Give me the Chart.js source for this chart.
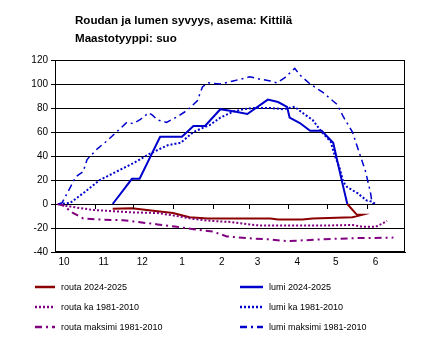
<!DOCTYPE html>
<html>
<head>
<meta charset="utf-8">
<script src="https://cdn.jsdelivr.net/npm/chart.js@4"></script>
<style>
  body { margin:0; background:#fff; font-family:"Liberation Sans", Arial, sans-serif; }
  #wrap { position:relative; width:430px; height:352px; }
  #title { position:absolute; left:75px; top:11px; font-weight:bold; font-size:11.6px; line-height:18px; color:#000; }
  .leg { position:absolute; font-size:9px; color:#000; display:flex; align-items:center; white-space:nowrap; }
  .leg svg { margin-right:6px; }
</style>
</head>
<body>
<div id="wrap">
  <canvas id="myChart" width="430" height="352"></canvas>
  <div id="title">Roudan ja lumen syvyys, asema: Kittilä<br>Maastotyyppi: suo</div>
  <div id="legend"></div>
</div>
<script>
// days counted from 1 Oct, depth in cm
var monthStarts = [0, 31, 61, 92, 123, 151, 182, 212, 243];
var monthLabels = ['10', '11', '12', '1', '2', '3', '4', '5', '6'];

var routaDays = [45, 60, 80, 92, 105, 119, 137, 168, 174, 193, 201, 232, 239.5, 235.5, 228];
var routaDepth = [-4, -3.5, -6, -7.5, -11, -12, -12, -12, -13, -13, -12, -11, -9, -9, 0];

var routaKaDays = [2, 6, 17, 30, 45, 61, 80, 95, 108, 121, 137, 144, 160, 181, 207, 232, 240, 250, 256, 259];
var routaKaDepth = [0, -1, -3, -5, -6, -7, -7.5, -10, -12.5, -14, -15, -16, -18, -18, -18, -17.5, -19, -19, -16, -14];

var routaMaxDays = [2, 6, 14, 22, 35, 53, 61, 80, 95, 108, 123, 134, 150, 168, 181, 207, 232, 264];
var routaMaxDepth = [0, -1, -7.5, -12, -13, -13.5, -14.5, -17, -19, -21, -23, -27, -28.5, -29.5, -31, -29.5, -28.5, -28];

var lumiDays = [45, 60, 66, 82, 90, 99, 108, 117, 129, 140, 150, 166, 174, 181, 183, 191, 199, 208, 217, 224, 228];
var lumiDepth = [0, 21, 21, 56, 56, 56, 65, 65, 79, 77, 75, 87, 85, 81, 72, 67.5, 61, 61, 51, 18, 0];

var lumiKaDays = [3, 12, 22, 35, 48, 61, 74, 88, 98, 108, 121, 129, 139, 147, 154, 168, 178, 187, 193, 201, 208, 215, 218, 222, 225, 228, 236, 243, 247, 250];
var lumiKaDepth = [0, 1, 9, 20, 27, 34, 42, 49, 51, 60, 66, 72, 77, 79, 80, 80, 79, 81, 76, 70, 60, 52, 41, 30, 18, 14, 9, 3, 2, 0];

var lumiMaxDays = [3, 5.5, 12, 16, 22, 25, 33, 41, 48, 56, 61, 66, 73, 76, 80, 87, 95, 103, 111, 115, 119, 129, 139, 152, 160, 168, 173, 179, 187, 191, 199, 209, 220, 225, 232, 236, 242, 246, 247, 248];
var lumiMaxDepth = [0, 1, 14, 22.5, 27, 37, 46, 53, 60, 68, 67, 70, 76, 74, 70, 68, 72.5, 78, 86, 97.5, 101, 100, 102.5, 106, 104, 102.5, 101, 105, 113, 107.5, 100, 93, 83, 72.5, 60, 47, 28, 10, 3, 0];

function pts(days, vals) {
  var out = [];
  for (var i = 0; i < days.length; i++) {
    out.push({ x: days[i], y: vals[i] });
  }
  return out;
}

var dark = '#8B0000';
var purple = '#800080';
var blue = '#0000CC';

var series = [
  { label: 'routa 2024-2025', data: pts(routaDays, routaDepth), color: dark, width: 2, dash: [] },
  { label: 'lumi 2024-2025', data: pts(lumiDays, lumiDepth), color: blue, width: 2, dash: [] },
  { label: 'routa ka 1981-2010', data: pts(routaKaDays, routaKaDepth), color: purple, width: 2, dash: [2, 2] },
  { label: 'lumi ka 1981-2010', data: pts(lumiKaDays, lumiKaDepth), color: blue, width: 2, dash: [2, 2] },
  { label: 'routa maksimi 1981-2010', data: pts(routaMaxDays, routaMaxDepth), color: purple, width: 2, dash: [7, 4, 2, 4] },
  { label: 'lumi maksimi 1981-2010', data: pts(lumiMaxDays, lumiMaxDepth), color: blue, width: 1.5, dash: [7, 4, 2, 4] }
];

// order so that the current-year lines are drawn on top
var drawOrder = [5, 3, 4, 2, 1, 0];

var datasets = series.map(function (s, i) {
  return {
    label: s.label,
    data: s.data,
    borderColor: s.color,
    backgroundColor: s.color,
    borderWidth: s.width,
    borderDash: s.dash,
    pointRadius: 0,
    tension: 0,
    fill: false,
    order: drawOrder[i]
  };
});

var frame = {
  id: 'frame',
  afterDraw: function (chart) {
    var ctx = chart.ctx;
    var a = chart.chartArea;
    var xs = chart.scales.x, ys = chart.scales.y;
    var y0 = ys.getPixelForValue(0);
    ctx.save();
    ctx.strokeStyle = '#000';
    ctx.lineWidth = 1;
    ctx.strokeRect(a.left + 0.5, a.top + 0.5, a.right - a.left - 1, a.bottom - a.top - 1);
    ctx.beginPath();
    monthStarts.slice(1).forEach(function (d) {
      var x = Math.round(xs.getPixelForValue(d)) + 0.5;
      ctx.moveTo(x, y0);
      ctx.lineTo(x, y0 + 5);
    });
    ctx.stroke();
    ctx.restore();
  }
};

Chart.defaults.font.family = '"Liberation Sans", Arial, sans-serif';
Chart.defaults.color = '#000';

new Chart(document.getElementById('myChart'), {
  type: 'line',
  data: { datasets: datasets },
  options: {
    responsive: false,
    animation: false,
    layout: { padding: { top: 60, right: 25, bottom: 78, left: 0 } },
    plugins: { legend: { display: false }, title: { display: false }, tooltip: { enabled: false } },
    scales: {
      x: {
        type: 'linear',
        min: 0,
        max: 273,
        afterFit: function (s) { s.height = 22; },
        afterBuildTicks: function (s) {
          s.ticks = monthStarts.map(function (d) { return { value: d }; });
        },
        ticks: {
          autoSkip: false,
          maxRotation: 0,
          padding: 4,
          labelOffset: 9,
          font: { size: 10 },
          callback: function (v) {
            var i = monthStarts.indexOf(v);
            return i >= 0 ? monthLabels[i] : '';
          }
        },
        grid: { display: false, drawTicks: false },
        border: { display: true, color: '#000' }
      },
      y: {
        min: -40,
        max: 120,
        afterFit: function (s) { s.width = 55; },
        ticks: { stepSize: 20, padding: 3, font: { size: 10 } },
        grid: { color: '#000', lineWidth: 1, tickLength: 4 },
        border: { display: true, color: '#000' }
      }
    }
  },
  plugins: [frame]
});

// legend in two columns, like the original
var legPos = [
  { i: 0, x: 35, y: 287, w: 20 },
  { i: 1, x: 240, y: 287, w: 23 },
  { i: 2, x: 35, y: 307, w: 20 },
  { i: 3, x: 240, y: 307, w: 23 },
  { i: 4, x: 35, y: 327, w: 20 },
  { i: 5, x: 240, y: 327, w: 23 }
];
var legend = document.getElementById('legend');
legPos.forEach(function (p) {
  var s = series[p.i];
  var d = document.createElement('div');
  d.className = 'leg';
  d.style.left = p.x + 'px';
  d.style.top = (p.y - 7) + 'px';
  d.style.height = '14px';
  d.innerHTML = '<svg width="' + p.w + '" height="4"><line x1="0" y1="2" x2="' + p.w + '" y2="2" stroke="' + s.color +
    '" stroke-width="2.5" stroke-dasharray="' + (s.dash.length ? s.dash.join(',') : 'none') + '"/></svg>' + s.label;
  legend.appendChild(d);
});
</script>
</body>
</html>
